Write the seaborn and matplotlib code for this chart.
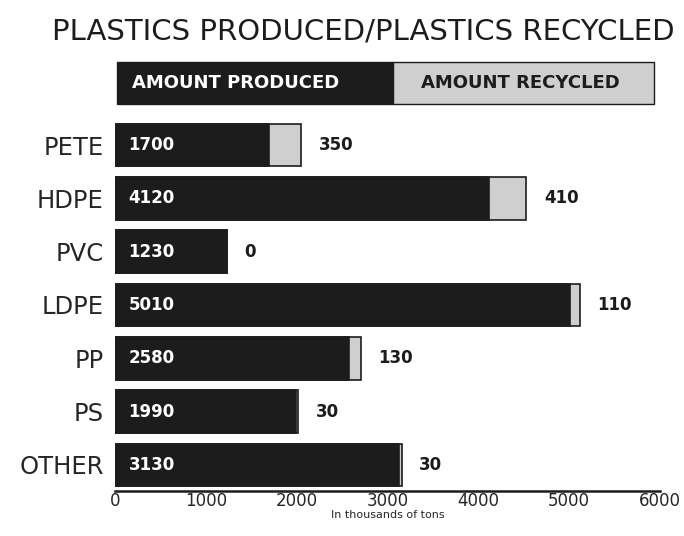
import pandas as pd
import matplotlib.pyplot as plt
import seaborn as sns
from matplotlib.patches import Rectangle

# Data (thousands of tons)
plastics = ["PETE", "HDPE", "PVC", "LDPE", "PP", "PS", "OTHER"]
produced = [1700, 4120, 1230, 5010, 2580, 1990, 3130]
recycled = [350, 410, 0, 110, 130, 30, 30]
x_ticks = [0, 1000, 2000, 3000, 4000, 5000, 6000]

df = pd.DataFrame({"plastic": plastics, "produced": produced, "recycled": recycled})
df["total"] = df["produced"] + df["recycled"]

sns.set_style("white")
plt.rcParams["font.family"] = ["DejaVu Sans"]

dark = "#1c1c1c"
light = "#cfcfcf"

fig = plt.figure(figsize=(6.84, 5.36), dpi=100)
ax = fig.add_axes([0.168, 0.084, 0.797, 0.698])

# recycled part (stacked on top of produced)
sns.barplot(data=df, y="plastic", x="total", order=plastics, color=light,
            edgecolor=dark, linewidth=1.2, width=0.8, ax=ax)
# produced part
sns.barplot(data=df, y="plastic", x="produced", order=plastics, color=dark,
            edgecolor=dark, linewidth=1.2, width=0.8, ax=ax)

ax.set_xlim(0, 6000)
ax.set_ylim(6.49, -0.53)
ax.set_xticks(x_ticks)
ax.set_xticklabels([str(t) for t in x_ticks], fontsize=12)
ax.tick_params(axis="x", length=0, pad=1)
ax.tick_params(axis="y", length=0, pad=8)
for lbl in ax.get_yticklabels():
    lbl.set_fontsize(17.5)
ax.set_ylabel("")
ax.set_xlabel("In thousands of tons", fontsize=8, labelpad=0)

for s in ["top", "right", "left"]:
    ax.spines[s].set_visible(False)
ax.spines["bottom"].set_linewidth(1.8)
ax.spines["bottom"].set_color(dark)

for i, row in df.iterrows():
    ax.text(150, i, str(row["produced"]), color="white", fontsize=12,
            fontweight="bold", va="center", ha="left")
    ax.text(row["total"] + 190, i, str(row["recycled"]), color=dark,
            fontsize=12, fontweight="bold", va="center", ha="left")

# legend strip across the top
fig.patches.append(Rectangle((117 / 684, 1 - 104 / 536), (393 - 117) / 684, 42 / 536,
                             transform=fig.transFigure, facecolor=dark, edgecolor=dark))
fig.patches.append(Rectangle((393 / 684, 1 - 104 / 536), (654 - 393) / 684, 42 / 536,
                             transform=fig.transFigure, facecolor=light, edgecolor=dark))
fig.text(132 / 684, 1 - 83 / 536, "AMOUNT PRODUCED", color="white", fontsize=13,
         fontweight="bold", va="center", ha="left")
fig.text(520 / 684, 1 - 83 / 536, "AMOUNT RECYCLED", color=dark, fontsize=13,
         fontweight="bold", va="center", ha="center")

fig.text(363 / 684, 1 - 31 / 536, "PLASTICS PRODUCED/PLASTICS RECYCLED",
         fontsize=21, va="center", ha="center", color=dark)

fig.savefig("out.png", dpi=100)
